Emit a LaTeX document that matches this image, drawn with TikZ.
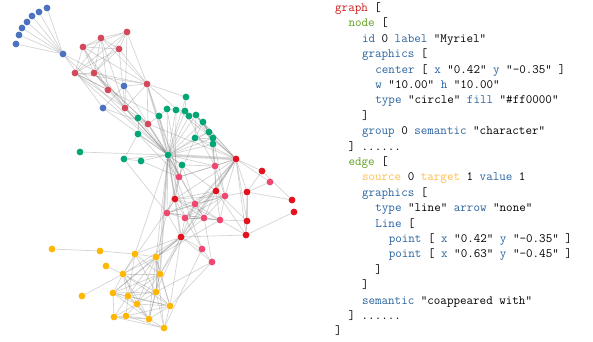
\documentclass[tikz,border=0pt]{standalone}
\usepackage{fontspec}
\usepackage{xcolor}
\definecolor{cblue}{HTML}{4B72BE}
\definecolor{cdred}{HTML}{D1495B}
\definecolor{cgreen}{HTML}{00A676}
\definecolor{cpink}{HTML}{EF476F}
\definecolor{cred}{HTML}{E3121E}
\definecolor{cyel}{HTML}{FFB703}
\definecolor{kred}{HTML}{CC1B1B}
\definecolor{kgreen}{HTML}{5FA11E}
\definecolor{kblue}{HTML}{2B64A0}
\definecolor{korange}{HTML}{FDBE4E}
\newcommand{\kwr}[1]{\textcolor{kred}{#1}}
\newcommand{\kwg}[1]{\textcolor{kgreen}{#1}}
\newcommand{\kwb}[1]{\textcolor{kblue}{#1}}
\newcommand{\kwo}[1]{\textcolor{korange}{#1}}
\pgfdeclarelayer{bg}
\pgfsetlayers{bg,main}
\newcommand{\myclique}[1]{\foreach \a [count=\i] in {#1} {\foreach \b [count=\j] in {#1} {\ifnum\i<\j \draw[lnk] (\a) -- (\b);\fi}}}
\begin{document}
\begin{tikzpicture}[x=1pt,y=-1pt,
  vx/.style={circle,inner sep=0pt,minimum size=6.8pt,draw=none},
  bn/.style={vx,fill=cblue}, dn/.style={vx,fill=cdred}, gn/.style={vx,fill=cgreen},
  pn/.style={vx,fill=cpink}, rn/.style={vx,fill=cred}, yn/.style={vx,fill=cyel},
  lnk/.style={draw=black!55,draw opacity=0.3,line width=0.7pt},
  thk/.style={draw=black!55,draw opacity=0.3,line width=2.6pt},
  mid/.style={draw=black!55,draw opacity=0.3,line width=1.5pt},
  cl/.style={anchor=base west,inner sep=0pt,font=\ttfamily\fontsize{12.7}{15.4}\selectfont}]
\useasboundingbox (0,0) rectangle (593,341);
% blue
\node[bn] (b1) at (47,8) {}; \node[bn] (b2) at (39,12) {}; \node[bn] (b3) at (32,16) {};
\node[bn] (b4) at (27,22) {}; \node[bn] (b5) at (22,28) {}; \node[bn] (b6) at (19,35) {};
\node[bn] (b7) at (16,44) {}; \node[bn] (bc) at (63,54) {}; \node[bn] (b8) at (124,86) {};
\node[bn] (b9) at (103,108) {};
% dark red
\node[dn] (d1) at (101,38) {}; \node[dn] (d2) at (127,32) {}; \node[dn] (d3) at (83,47) {};
\node[dn] (d4) at (119,49) {}; \node[dn] (d5) at (75,73) {}; \node[dn] (d6) at (94,73) {};
\node[dn] (d7) at (147,84) {}; \node[dn] (d8) at (108,90) {}; \node[dn] (d9) at (125,108) {};
\node[dn] (d10) at (148,124) {};
% green
\node[gn] (g1) at (186,97) {}; \node[gn] (g2) at (167,109) {}; \node[gn] (g3) at (176,110) {};
\node[gn] (g4) at (185,111) {}; \node[gn] (g5) at (189,116) {}; \node[gn] (g6) at (196,115) {};
\node[gn] (g7) at (203,122) {}; \node[gn] (g8) at (159,116) {}; \node[gn] (g9) at (138,118) {};
\node[gn] (g10) at (138,134) {}; \node[gn] (g11) at (209,132) {}; \node[gn] (g12) at (195,138) {};
\node[gn] (g13) at (213,138) {}; \node[gn] (g14) at (213,144) {}; \node[gn] (g15) at (80,152) {};
\node[gn] (g16) at (124,159) {}; \node[gn] (g17) at (141,161) {}; \node[gn] (g18) at (168,155) {};
\node[gn] (g19) at (182,165) {};
% pink
\node[pn] (p1) at (215,166) {}; \node[pn] (p2) at (179,177) {}; \node[pn] (p3) at (195,204) {};
\node[pn] (p4) at (225,196) {}; \node[pn] (p5) at (167,213) {}; \node[pn] (p6) at (185,218) {};
\node[pn] (p7) at (204,218) {}; \node[pn] (p8) at (220,220) {}; \node[pn] (p9) at (270,182) {};
\node[pn] (p10) at (202,249) {}; \node[pn] (p11) at (212,262) {};
% red
\node[rn] (r1) at (236,159) {}; \node[rn] (r2) at (216,191) {}; \node[rn] (r3) at (175,199) {};
\node[rn] (r4) at (262,171) {}; \node[rn] (r5) at (247,192) {}; \node[rn] (r6) at (292,200) {};
\node[rn] (r7) at (294,212) {}; \node[rn] (r8) at (247,221) {}; \node[rn] (r9) at (246,235) {};
\node[rn] (r10) at (181,237) {};
% yellow
\node[yn] (y1) at (52,249) {}; \node[yn] (y2) at (100,251) {}; \node[yn] (y3) at (135,254) {};
\node[yn] (y4) at (156,257) {}; \node[yn] (y5) at (106,266) {}; \node[yn] (y6) at (123,274) {};
\node[yn] (y7) at (160,274) {}; \node[yn] (y8) at (113,293) {}; \node[yn] (y9) at (128,296) {};
\node[yn] (y10) at (156,292) {}; \node[yn] (y11) at (137,304) {}; \node[yn] (y12) at (82,296) {};
\node[yn] (y13) at (170,306) {}; \node[yn] (y14) at (114,317) {}; \node[yn] (y15) at (126,316) {};
\node[yn] (y16) at (149,319) {}; \node[yn] (y17) at (164,328) {};
\begin{pgfonlayer}{bg}
\fill[white] (0,0) rectangle (593,341);
\foreach \a/\b in {bc/b1,bc/b2,bc/b3,bc/b4,bc/b5,bc/b6,bc/b7,bc/b8,bc/b9,b8/b9,bc/g18,b8/g18,b9/g18,b8/d7,b9/d10,
  d8/d5,d8/d6,d8/d3,d9/d7,d9/d2,d9/g18,d10/d7,d10/d6,d10/r1,d7/r1,d7/p2,d7/g1,d5/d10,d6/g18,d3/d9,d4/d9,d1/d9,d5/g8,
  d5/g18,d8/g18,d6/d10,d1/d8,
  g18/g1,g18/g2,g18/g3,g18/g4,g18/g5,g18/g6,g18/g7,g18/g8,g18/g9,g18/g10,g18/g11,g18/g12,g18/g13,g18/g14,g18/g15,
  g18/g16,g18/g17,g18/g19,g2/g3,g3/g4,g4/g5,g2/g8,g10/g16,g9/g10,g9/d10,g16/g17,g19/p1,g19/p2,g12/r1,g13/r1,g8/d10,
  g4/p1,g5/r1,g7/r1,g11/p1,g14/p1,g12/p2,g2/p2,g3/r3,g8/p2,g1/g4,g6/r1,g13/p4,g14/r2,g19/r3,g19/p3,g17/p2,g16/p5,g10/p2,
  r1/p1,r1/p2,r1/p3,r1/p4,r1/r2,r1/r3,r1/r4,r1/r5,r1/r8,r1/r9,r1/p9,r1/p6,
  g18/p1,g18/p2,g18/r2,g18/r3,g18/p3,g18/p5,g18/p6,g18/p7,g18/p10,
  p2/p1,p2/r3,p2/p5,p1/r2,p1/p4,p4/r5,p9/r5,r4/r5,r5/r6,r5/r8,r5/r9,r8/r9,r7/r9,r6/r4,r8/p8,r9/p8,r9/r10,
  r10/p10,r10/p11,p10/p11,p10/p6,p11/p7,r10/p5,r10/p6,r10/p7,r10/p3,r8/r2,r9/r2,
  y3/y4,y3/y6,y3/y7,y3/y10,y3/y9,y14/y8,y14/y9,y14/y11,y14/y16,y14/y15,y14/y17,y15/y9,y15/y11,y15/y16,y15/y17,y15/y13,
  y17/y13,y17/y16,y17/y10,y17/y4,y2/y3,y1/y2,y5/y6,y12/y6,
  r10/y3,r10/y6,r10/y7,r10/y10,r10/y13,r10/y8,g18/y4,g18/y3,g18/y10,r1/y7,p10/y17,p11/y13,p11/y10,p5/y4,r3/y6,p8/y4}
  {\draw[lnk] (\a) -- (\b);}
\myclique{d1,d2,d3,d4,d5,d6,d7}
\myclique{g6,g7,g11,g12,g13,g14}
\myclique{p3,p4,p5,p6,p7,p8,r2,r3}
\myclique{y4,y6,y7,y8,y9,y10,y11,y13,y16}
\draw[thk] (g18) -- (r1);
\draw[mid] (g18) -- (r10); \draw[mid] (r1) -- (r10); \draw[mid] (r10) -- (y4);
\draw[mid] (g18) -- (y7); \draw[mid] (d7) -- (g18); \draw[mid] (d10) -- (g18);
\end{pgfonlayer}
% code
\node[cl] (t0) at (335,11.5) {\kwr{graph} [};
\node[cl] (t1) at (348.4,26.9) {\kwg{node} [};
\node[cl] (t2) at (361.8,42.3) {\kwb{id} 0 \kwb{label} "Myriel”};
\node[cl] (t3) at (361.8,57.7) {\kwb{graphics} [};
\node[cl] (t4) at (375.2,73.1) {\kwb{center} [ \kwb{x} "0.42" \kwb{y} "-0.35" ]};
\node[cl] (t5) at (375.2,88.5) {\kwb{w} "10.00" \kwb{h} "10.00"};
\node[cl] (t6) at (375.2,103.9) {\kwb{type} "circle" \kwb{fill} "\#ff0000”};
\node[cl] (t7) at (361.8,119.3) {]};
\node[cl] (t8) at (361.8,134.7) {\kwb{group} 0 \kwb{semantic} "character"};
\node[cl] (t9) at (348.4,150.1) {] ......};
\node[cl] (t10) at (348.4,165.5) {\kwg{edge} [};
\node[cl] (t11) at (361.8,180.9) {\kwo{source} 0 \kwo{target} 1 \kwb{value} 1};
\node[cl] (t12) at (361.8,196.3) {\kwb{graphics} [};
\node[cl] (t13) at (375.2,211.7) {\kwb{type} "line" \kwb{arrow} "none"};
\node[cl] (t14) at (375.2,227.1) {\kwb{Line} [};
\node[cl] (t15) at (388.6,242.5) {\kwb{point} [ \kwb{x} "0.42" \kwb{y} "-0.35" ]};
\node[cl] (t16) at (388.6,257.9) {\kwb{point} [ \kwb{x} "0.63" \kwb{y} "-0.45" ]};
\node[cl] (t17) at (375.2,273.3) {]};
\node[cl] (t18) at (361.8,288.7) {]};
\node[cl] (t19) at (361.8,304.1) {\kwb{semantic} "coappeared with"};
\node[cl] (t20) at (348.4,319.5) {] ......};
\node[cl] (t21) at (335,334.9) {]};
\end{tikzpicture}
\end{document}
